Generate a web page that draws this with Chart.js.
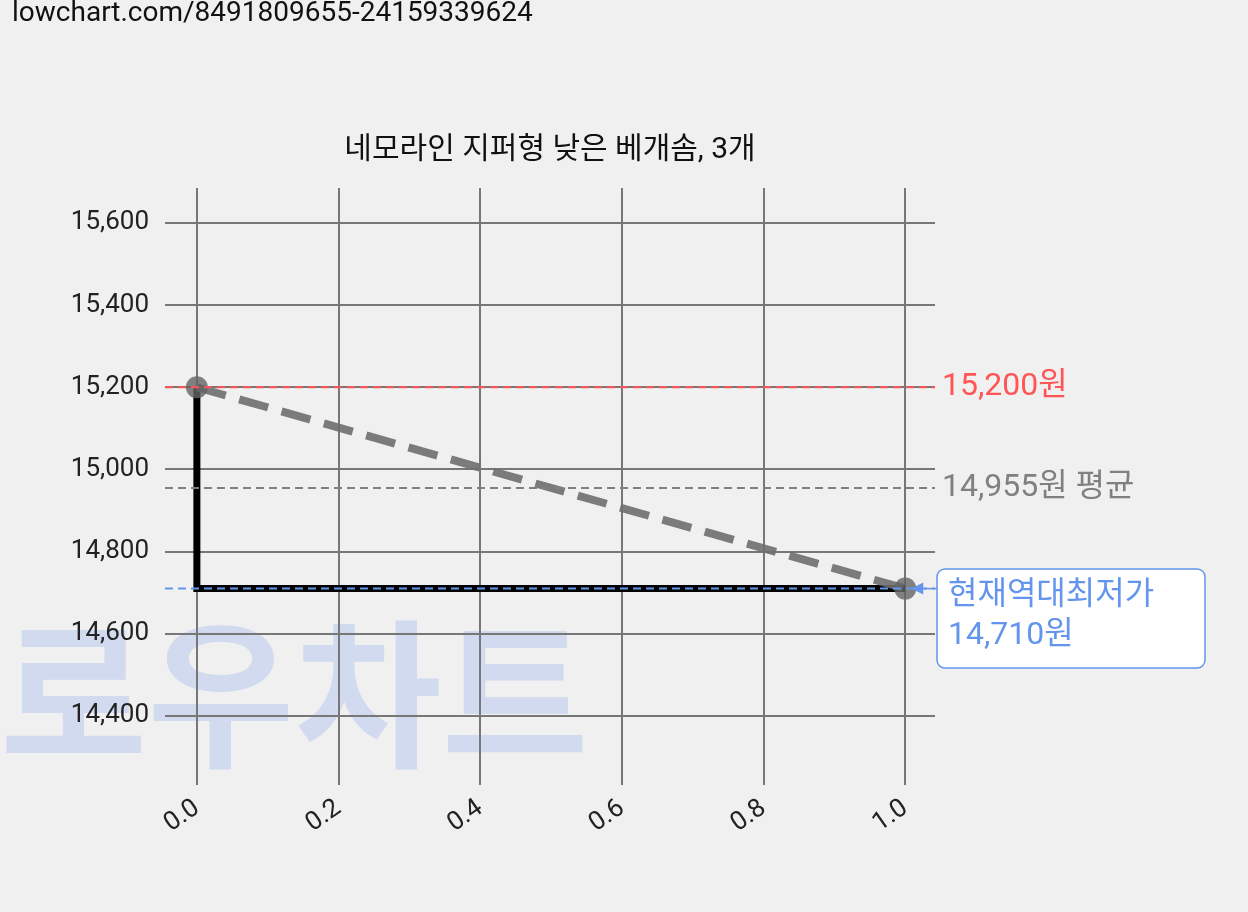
<!DOCTYPE html><html><head><meta charset="utf-8">
<script src="https://cdn.jsdelivr.net/npm/chart.js@4/dist/chart.umd.min.js"></script>
<style>html,body{margin:0;background:#f0f0f0;overflow:hidden}</style></head><body>
<canvas id="c" width="1248" height="912" style="width:1248px;height:912px;display:block"></canvas>
<script>
const chartTitle='네모라인 지퍼형 낮은 베개솜, 3개';
const urlText='lowchart.com/8491809655-24159339624';
const xTicks=[0,0.2,0.4,0.6,0.8,1.0];
const yTicks=[14400,14600,14800,15000,15200,15400,15600];
const stepX=[0,0,1];
const stepY=[15200,14710,14710];
const trendX=[0,1];
const trendY=[15200,14710];
const maxPrice=15200, avgPrice=14955, minPrice=14710;
const F='Roboto, "Noto Sans CJK KR", sans-serif';
const fmt=v=>v.toLocaleString('en-US');
const plug={id:'p',
beforeDraw(ch){const c=ch.ctx;c.save();c.fillStyle='#f0f0f0';c.fillRect(0,0,ch.width,ch.height);
c.font='bold 160px "Noto Sans CJK KR"';c.fillStyle='rgba(170,190,235,0.45)';c.textBaseline='alphabetic';c.fillText('로우차트',0,755);c.restore();},
afterDraw(ch){const c=ch.ctx,x=ch.scales.x,y=ch.scales.y,a=ch.chartArea;c.save();
c.font='28px '+F;c.fillStyle='#111';c.textBaseline='top';c.fillText(urlText,12,0);
c.font='30px '+F;c.textAlign='center';c.textBaseline='middle';c.fillText(chartTitle,550,150);
c.textAlign='left';c.lineWidth=2;c.setLineDash([8,5]);
const hl=(v,col,x0)=>{c.strokeStyle=col;c.beginPath();c.moveTo(x0,y.getPixelForValue(v));c.lineTo(a.right,y.getPixelForValue(v));c.stroke();};
hl(maxPrice,'#ff5555',a.left);hl(avgPrice,'#808080',a.left);hl(minPrice,'#6495ed',a.left);
c.setLineDash([]);c.font='32px '+F;
c.fillStyle='#ff5555';c.fillText(fmt(maxPrice)+'원',942,y.getPixelForValue(maxPrice));
c.fillStyle='#808080';c.fillText(fmt(avgPrice)+'원 평균',942,y.getPixelForValue(avgPrice));
const bx=937,by=569,bw=268,bh=99;c.fillStyle='#fff';c.strokeStyle='#6495ed';c.lineWidth=1.5;
c.beginPath();c.roundRect(bx,by,bw,bh,8);c.fill();c.stroke();
c.fillStyle='#6495ed';c.fillText('현재역대최저가',948,596);c.fillText(fmt(minPrice)+'원',948,636);
const py=y.getPixelForValue(minPrice),px=x.getPixelForValue(1);
c.beginPath();c.moveTo(bx,py);c.lineTo(px+8,py);c.stroke();
c.beginPath();c.moveTo(px+6,py);c.lineTo(px+18,py-6);c.lineTo(px+18,py+6);c.closePath();c.fill();
c.restore();}};
new Chart(document.getElementById('c'),{type:'scatter',
data:{datasets:[
{data:stepX.map((v,i)=>({x:v,y:stepY[i]})),showLine:true,borderColor:'#000',borderWidth:7,pointRadius:0,order:2},
{data:trendX.map((v,i)=>({x:v,y:trendY[i]})),showLine:true,borderColor:'rgba(110,110,110,0.9)',borderWidth:8,borderDash:[30,14],pointRadius:11,pointBackgroundColor:'rgba(100,100,100,0.8)',pointBorderWidth:0,order:1}]},
options:{responsive:false,animation:false,devicePixelRatio:1,
layout:{padding:{top:188,right:313,left:0,bottom:0}},
plugins:{legend:{display:false},tooltip:{enabled:false}},
scales:{
x:{type:'linear',min:-0.045,max:1.042,afterBuildTicks:s=>{s.ticks=xTicks.map(v=>({value:v}));},afterFit:s=>{s.height=127;},
 border:{display:false},grid:{color:'#777',lineWidth:2,borderDash:[2,5],tickLength:0,drawTicks:false},
 ticks:{maxRotation:35,minRotation:35,color:'#222',font:{size:26,family:F},padding:8,callback:v=>v.toFixed(1)}},
y:{type:'linear',min:14232,max:15685,afterBuildTicks:s=>{s.ticks=yTicks.map(v=>({value:v}));},afterFit:s=>{s.width=165;},
 border:{display:false},grid:{color:'#777',lineWidth:2,borderDash:[2,5],drawTicks:false},
 ticks:{color:'#222',font:{size:26,family:F},padding:16,callback:v=>fmt(v)}}}},
plugins:[plug]});
</script>
</body></html>
